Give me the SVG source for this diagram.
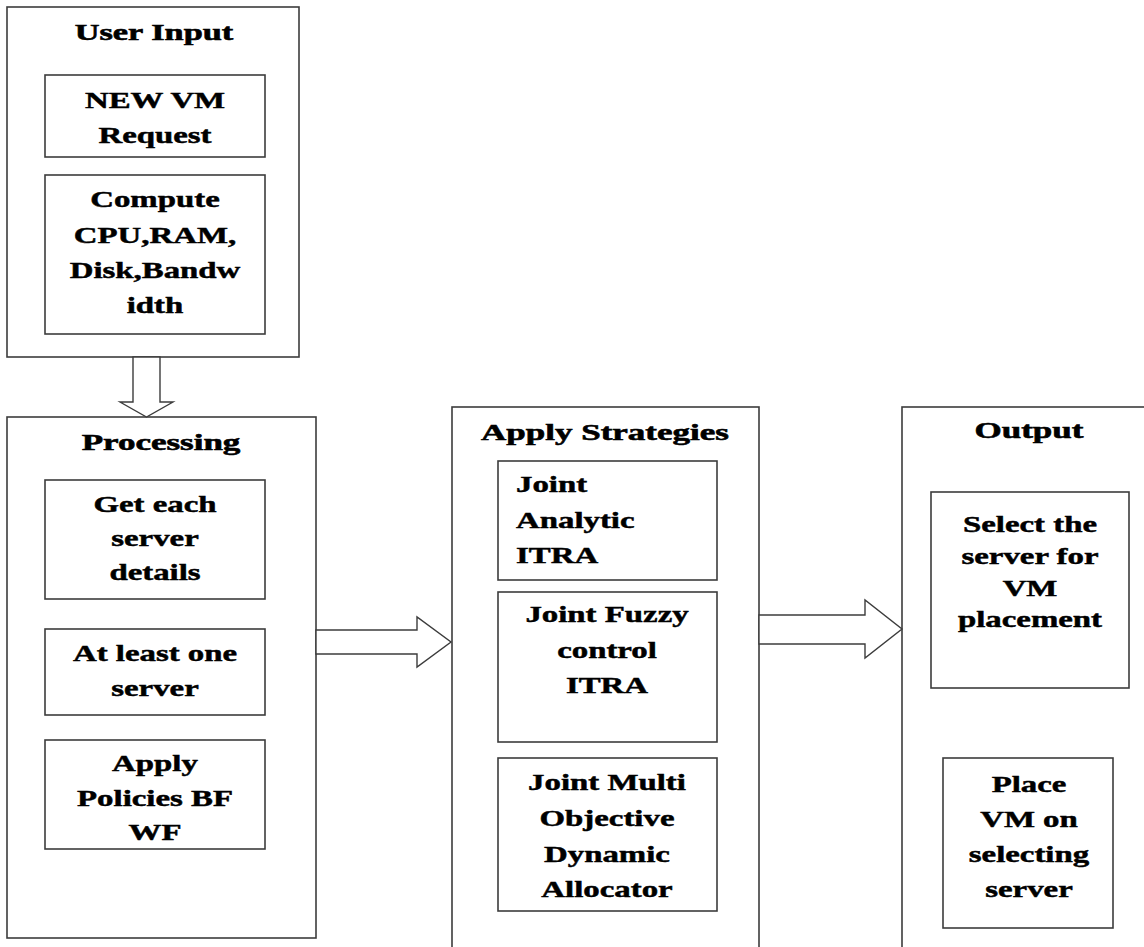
<svg xmlns="http://www.w3.org/2000/svg" width="1144" height="947" viewBox="0 0 1144 947">
<style>
.box{fill:#fff;stroke:#3c3c3c;stroke-width:1.6}
.arr{fill:#fff;stroke:#3c3c3c;stroke-width:1.4;stroke-linejoin:miter}
.t{font-family:"Liberation Serif","Times New Roman",serif;font-weight:bold;font-size:22.5px;fill:#000;stroke:#000;stroke-width:0.45;text-anchor:middle}
.h{font-family:"Liberation Serif","Times New Roman",serif;font-weight:bold;font-size:23.5px;fill:#000;stroke:#000;stroke-width:0.6;text-anchor:middle}
.l{text-anchor:start}
</style>
<rect width="1144" height="947" fill="#fff"/>
<g id="user-input">
<rect class="box" x="7" y="7" width="292" height="350"/>
<text class="h" transform="matrix(1.46 0 0 1 154 40)">User Input</text>
</g>
<g id="new-vm">
<rect class="box" x="45" y="75" width="220" height="82"/>
<text class="t" transform="matrix(1.46 0 0 1 155 108)"><tspan x="0" y="0">NEW VM</tspan><tspan x="0" y="35">Request</tspan></text>
</g>
<g id="compute">
<rect class="box" x="45" y="175" width="220" height="159"/>
<text class="t" transform="matrix(1.46 0 0 1 155 207)"><tspan x="0" y="0">Compute</tspan><tspan x="0" y="36">CPU,RAM,</tspan><tspan x="0" y="71">Disk,Bandw</tspan><tspan x="0" y="106">idth</tspan></text>
</g>
<g id="processing">
<rect class="box" x="7" y="417" width="309" height="521"/>
<text class="h" transform="matrix(1.49 0 0 1 161 450)">Processing</text>
</g>
<g id="get-each">
<rect class="box" x="45" y="480" width="220" height="119"/>
<text class="t" transform="matrix(1.46 0 0 1 155 512)"><tspan x="0" y="0">Get each</tspan><tspan x="0" y="34">server</tspan><tspan x="0" y="68">details</tspan></text>
</g>
<g id="at-least-one">
<rect class="box" x="45" y="629" width="220" height="86"/>
<text class="t" transform="matrix(1.46 0 0 1 155 661)"><tspan x="0" y="0">At least one</tspan><tspan x="0" y="35">server</tspan></text>
</g>
<g id="apply-policies">
<rect class="box" x="45" y="740" width="220" height="109"/>
<text class="t" transform="matrix(1.46 0 0 1 155 771)"><tspan x="0" y="0">Apply</tspan><tspan x="0" y="35">Policies BF</tspan><tspan x="0" y="69">WF</tspan></text>
</g>
<g id="apply-strategies">
<rect class="box" x="452" y="407" width="307" height="600"/>
<text class="h" transform="matrix(1.49 0 0 1 605 440)">Apply Strategies</text>
</g>
<g id="joint-analytic">
<rect class="box" x="498" y="461" width="219" height="119"/>
<text class="t l" transform="matrix(1.46 0 0 1 516 492)"><tspan x="0" y="0">Joint</tspan><tspan x="0" y="36">Analytic</tspan><tspan x="0" y="71">ITRA</tspan></text>
</g>
<g id="joint-fuzzy">
<rect class="box" x="498" y="592" width="219" height="150"/>
<text class="t" transform="matrix(1.46 0 0 1 607 622)"><tspan x="0" y="0">Joint Fuzzy</tspan><tspan x="0" y="36">control</tspan><tspan x="0" y="71">ITRA</tspan></text>
</g>
<g id="joint-multi">
<rect class="box" x="498" y="758" width="219" height="153"/>
<text class="t" transform="matrix(1.46 0 0 1 607 790)"><tspan x="0" y="0">Joint Multi</tspan><tspan x="0" y="36">Objective</tspan><tspan x="0" y="72">Dynamic</tspan><tspan x="0" y="107">Allocator</tspan></text>
</g>
<g id="output">
<rect class="box" x="902" y="407" width="300" height="600"/>
<text class="h" transform="matrix(1.49 0 0 1 1029 438)">Output</text>
</g>
<g id="select-server">
<rect class="box" x="931" y="492" width="198" height="196"/>
<text class="t" transform="matrix(1.46 0 0 1 1030 532)"><tspan x="0" y="0">Select the</tspan><tspan x="0" y="32">server for</tspan><tspan x="0" y="64">VM</tspan><tspan x="0" y="95">placement</tspan></text>
</g>
<g id="place-vm">
<rect class="box" x="943" y="758" width="170" height="170"/>
<text class="t" transform="matrix(1.46 0 0 1 1029 792)"><tspan x="0" y="0">Place</tspan><tspan x="0" y="35">VM on</tspan><tspan x="0" y="70">selecting</tspan><tspan x="0" y="105">server</tspan></text>
</g>
<g id="connectors">
<polygon class="arr" points="133,357 160,357 160,402 173,402 146.5,417 120,402 133,402"/>
<polygon class="arr" points="316,630 417,630 417,617 451,642 417,667 417,654 316,654"/>
<polygon class="arr" points="759,615 865,615 865,600 902,629 865,658 865,644 759,644"/>
</g>
</svg>
